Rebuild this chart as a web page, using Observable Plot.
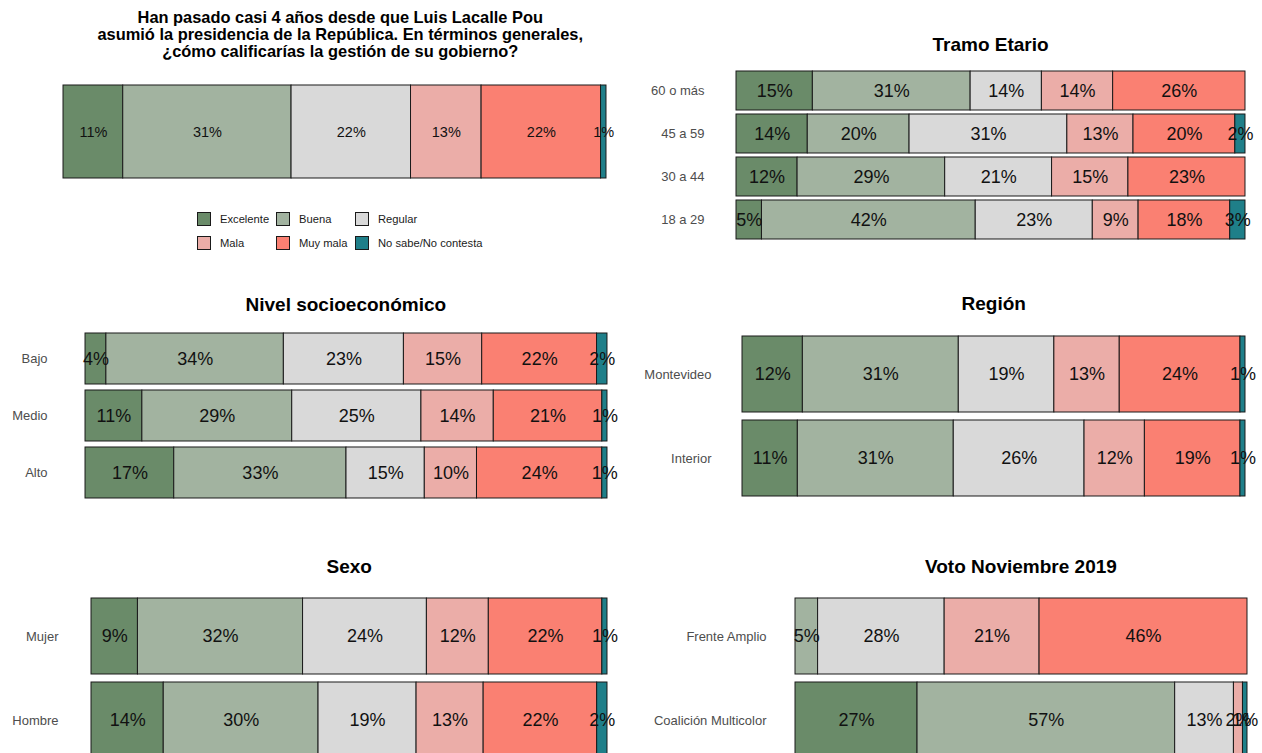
<!DOCTYPE html>
<html>
<head>
<meta charset="utf-8">
<script src="https://cdn.jsdelivr.net/npm/d3@7"></script>
<script src="https://cdn.jsdelivr.net/npm/@observablehq/plot@0.6"></script>
<style>
  html, body { margin: 0; padding: 0; background: #fff; }
  #root { position: relative; width: 1262px; height: 753px; overflow: hidden; background: #fff;
          font-family: "Liberation Sans", Arial, Helvetica, sans-serif; }
  .title { position: absolute; font-weight: bold; color: #000; text-align: center; white-space: nowrap; }
  .panel { position: absolute; }
  .panel svg { overflow: visible; display: block; }
  .legend { position: absolute; display: grid; grid-template-columns: 79px 79px 140px; row-gap: 10px;
            font-size: 11.2px; color: #1a1a1a; }
  .legend .item { display: flex; align-items: center; height: 14px; }
  .legend .sw { width: 14px; height: 14px; border: 1px solid #1a1a1a; box-sizing: border-box; margin-right: 9px; flex: none; }
</style>
</head>
<body>
<div id="root"></div>
<script>
// ---------- DATA ----------
const cats = ["Excelente", "Buena", "Regular", "Mala", "Muy mala", "No sabe/No contesta"];
const catColors = ["#6A8B69", "#A2B3A0", "#D9D9D9", "#EBADA8", "#FA8072", "#1F7F89"];

const generalTitle = ["Han pasado casi 4 años desde que Luis Lacalle Pou",
                      "asumió la presidencia de la República. En términos generales,",
                      "¿cómo calificarías la gestión de su gobierno?"];
const generalGroups = ["Total"];
const generalValues = [[11, 31, 22, 13, 22, 1]];

const edadTitle = "Tramo Etario";
const edadGroups = ["60 o más", "45 a 59", "30 a 44", "18 a 29"];
const edadValues = [
  [15, 31, 14, 14, 26, 0],
  [14, 20, 31, 13, 20, 2],
  [12, 29, 21, 15, 23, 0],
  [5, 42, 23, 9, 18, 3]
];

const nseTitle = "Nivel socioeconómico";
const nseGroups = ["Bajo", "Medio", "Alto"];
const nseValues = [
  [4, 34, 23, 15, 22, 2],
  [11, 29, 25, 14, 21, 1],
  [17, 33, 15, 10, 24, 1]
];

const regionTitle = "Región";
const regionGroups = ["Montevideo", "Interior"];
const regionValues = [
  [12, 31, 19, 13, 24, 1],
  [11, 31, 26, 12, 19, 1]
];

const sexoTitle = "Sexo";
const sexoGroups = ["Mujer", "Hombre"];
const sexoValues = [
  [9, 32, 24, 12, 22, 1],
  [14, 30, 19, 13, 22, 2]
];

const votoTitle = "Voto Noviembre 2019";
const votoGroups = ["Frente Amplio", "Coalición Multicolor"];
const votoValues = [
  [0, 5, 28, 21, 46, 0],
  [27, 57, 13, 2, 0, 1]
];

// ---------- LAYOUT ----------
const root = document.getElementById("root");
const FONT = '"Liberation Sans", Arial, Helvetica, sans-serif';

function tidy(groups, values) {
  const rows = [];
  groups.forEach((g, i) => cats.forEach((c, j) => {
    if (values[i][j] > 0) rows.push({group: g, cat: c, value: values[i][j]});
  }));
  return rows;
}

function addTitle(lines, cx, cy, size, lh) {
  const div = document.createElement("div");
  div.className = "title";
  div.style.fontSize = size + "px";
  div.style.lineHeight = lh + "px";
  div.innerHTML = [].concat(lines).join("<br>");
  root.appendChild(div);
  const w = div.offsetWidth, h = div.offsetHeight;
  div.style.left = (cx - w / 2) + "px";
  div.style.top = (cy - h / 2) + "px";
}

function panel(o) {
  const n = o.groups.length;
  const step = (o.barBottom - o.barTop) / (n - 0.1);
  const r0 = o.barTop - 0.05 * step, r1 = o.barBottom + 0.05 * step;
  const rows = tidy(o.groups, o.values);
  const marks = [
    Plot.barX(rows, Plot.stackX({x: "value", y: "group", z: "cat", fill: "cat", order: cats,
      offset: "normalize", stroke: "#1a1a1a", strokeWidth: 1})),
    Plot.text(rows, Plot.stackX({x: "value", y: "group", z: "cat", order: cats, offset: "normalize",
      text: d => d.value + "%", fontSize: o.fontSize, fill: "#111"}))
  ];
  if (o.showAxis) marks.push(Plot.axisY({tickSize: 0, tickPadding: o.x0 - o.labelRight,
    fontSize: 13, color: "#4D4D4D", label: null}));
  const svg = Plot.plot({
    width: o.width,
    height: r1 - r0,
    marginLeft: o.x0 - o.left,
    marginRight: o.left + o.width - o.x1,
    marginTop: 0,
    marginBottom: 0,
    x: {domain: [0, 1], axis: null},
    y: {domain: o.groups, paddingInner: 0.1, paddingOuter: 0.05, axis: null},
    color: {domain: cats, range: catColors},
    style: {fontFamily: FONT, background: "transparent", overflow: "visible"},
    marks
  });
  const wrap = document.createElement("div");
  wrap.className = "panel";
  wrap.style.left = o.left + "px";
  wrap.style.top = r0 + "px";
  wrap.appendChild(svg);
  root.appendChild(wrap);
  addTitle(o.title, (o.x0 + o.x1) / 2 + (o.titleShift || 0), o.titleY, o.titleSize, o.titleLH || o.titleSize + 3);
}

panel({title: generalTitle, groups: generalGroups, values: generalValues, left: 0, width: 631,
  x0: 63, x1: 606, barTop: 85, barBottom: 178, fontSize: 14.5, showAxis: false,
  titleY: 34, titleSize: 16.4, titleLH: 17, titleShift: 6});

panel({title: edadTitle, groups: edadGroups, values: edadValues, left: 631, width: 631,
  x0: 736, x1: 1245, barTop: 69, barBottom: 240, labelRight: 704, fontSize: 18, showAxis: true,
  titleY: 45, titleSize: 19});

panel({title: nseTitle, groups: nseGroups, values: nseValues, left: 0, width: 631,
  x0: 85, x1: 607, barTop: 332, barBottom: 500, labelRight: 47, fontSize: 18, showAxis: true,
  titleY: 305, titleSize: 19});

panel({title: regionTitle, groups: regionGroups, values: regionValues, left: 631, width: 631,
  x0: 742, x1: 1245, barTop: 335, barBottom: 496, labelRight: 711, fontSize: 18, showAxis: true,
  titleY: 304, titleSize: 19});

panel({title: sexoTitle, groups: sexoGroups, values: sexoValues, left: 0, width: 631,
  x0: 91, x1: 607, barTop: 597, barBottom: 758, labelRight: 58, fontSize: 18, showAxis: true,
  titleY: 567, titleSize: 19});

panel({title: votoTitle, groups: votoGroups, values: votoValues, left: 631, width: 631,
  x0: 795, x1: 1247, barTop: 597, barBottom: 758, labelRight: 766, fontSize: 18, showAxis: true,
  titleY: 567, titleSize: 19});

// Legend (top-left panel)
const legend = document.createElement("div");
legend.className = "legend";
legend.style.left = "197px";
legend.style.top = "212px";
cats.forEach((c, i) => {
  const it = document.createElement("div");
  it.className = "item";
  const sw = document.createElement("span");
  sw.className = "sw";
  sw.style.background = catColors[i];
  const tx = document.createElement("span");
  tx.textContent = c;
  it.appendChild(sw); it.appendChild(tx);
  legend.appendChild(it);
});
root.appendChild(legend);
</script>
</body>
</html>
